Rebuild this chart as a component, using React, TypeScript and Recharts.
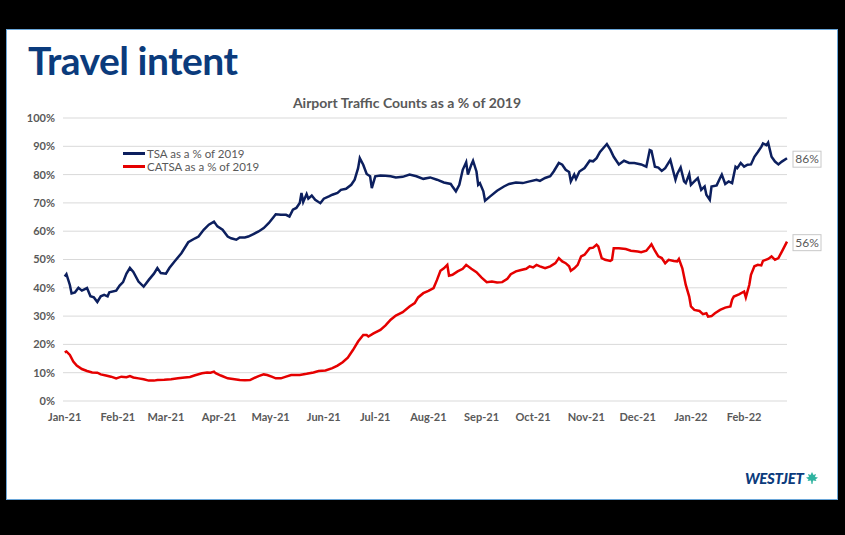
import React from 'react';
import { LineChart, Line, XAxis, YAxis, CartesianGrid, LabelList } from 'recharts';

// days since 1 Jan 2021, values in % of 2019 traffic
const tsaDays = [0, 1, 3, 4, 6, 8, 10, 13, 15, 17, 19, 21, 23, 25, 26, 30, 32, 34, 36, 38, 40, 43, 46, 49, 52, 54, 56, 59, 61, 64, 68, 72, 76, 78, 81, 84, 87, 89, 92, 95, 97, 100, 102, 105, 107, 110, 113, 116, 119, 122, 123, 126, 129, 131, 133, 135, 137, 138, 139, 141, 142, 144, 146, 149, 151, 154, 156, 159, 161, 164, 167, 169, 171, 172, 174, 176, 178, 179, 181, 184, 187, 190, 193, 197, 201, 205, 209, 213, 217, 221, 225, 226, 228, 230, 232, 234, 235, 237, 238, 240, 241, 242, 244, 245, 248, 252, 256, 259, 263, 267, 271, 275, 277, 280, 283, 285, 288, 290, 292, 294, 295, 297, 298, 300, 303, 306, 308, 310, 312, 314, 316, 318, 320, 323, 326, 329, 332, 336, 339, 341, 342, 344, 346, 348, 350, 353, 356, 357, 359, 361, 362, 364, 365, 367, 369, 371, 373, 374, 376, 377, 380, 382, 383, 385, 387, 389, 391, 392, 394, 396, 398, 400, 402, 404, 406, 407, 409, 410, 412, 414, 416, 418, 421];
const tsaPct = [44, 44.8, 41, 38, 38.4, 40, 39, 39.9, 37, 36.6, 35, 37, 37.5, 37, 38.4, 39, 40.8, 42, 45, 47, 45.6, 42.2, 40.4, 42.8, 45, 47, 45.2, 45, 47, 49.3, 52.2, 56.1, 57.5, 58.1, 60.5, 62.3, 63.4, 61.7, 60.5, 58.1, 57.5, 57, 57.8, 57.8, 58.1, 59, 59.9, 61.1, 62.9, 65.2, 66, 65.8, 65.8, 65.2, 67.6, 68.2, 70, 73.5, 70.3, 73.1, 71.5, 72.6, 71.1, 69.9, 71.5, 72.3, 72.9, 73.5, 74.6, 75, 76.4, 78.2, 82.3, 85.8, 83.5, 80.2, 79.4, 75.2, 79.4, 79.7, 79.6, 79.4, 79, 79.2, 80, 79.4, 78.5, 79, 78.2, 77.2, 76.7, 75.8, 74.1, 76.4, 81.7, 84.4, 80, 83.5, 84.9, 81.1, 76.4, 77, 74.1, 70.8, 72.3, 74.3, 75.8, 76.7, 77.2, 77, 77.6, 78.2, 77.8, 78.8, 79.4, 81.1, 84.1, 83.5, 81.7, 80.9, 77.6, 80, 78.5, 81.1, 82.3, 84.9, 84.7, 85.8, 88, 89.4, 90.8, 88.8, 86.3, 83.6, 84.9, 84.1, 84.1, 83.6, 82.8, 88.7, 88.4, 82.8, 82.5, 81.3, 82.3, 85.2, 78.2, 80.2, 82.5, 77.6, 77, 80.2, 76.4, 77.6, 78.8, 74.6, 75.8, 72.9, 71.1, 75.8, 76.2, 78.8, 80, 76.7, 77.6, 77, 82.8, 82.3, 84.1, 82.8, 83.5, 83.6, 86.3, 88, 89.8, 91, 90.4, 91.3, 86.3, 84.6, 83.6, 84.6, 85.8];

const catsaDays = [0, 1, 3, 5, 7, 10, 13, 16, 19, 21, 24, 27, 30, 33, 36, 38, 40, 43, 46, 49, 52, 54, 58, 62, 66, 70, 73, 76, 80, 83, 85, 87, 88, 91, 95, 99, 102, 105, 108, 110, 113, 116, 118, 121, 123, 126, 129, 132, 134, 137, 141, 145, 148, 152, 156, 159, 162, 165, 168, 171, 174, 176, 177, 180, 184, 187, 190, 193, 197, 201, 204, 206, 209, 212, 215, 217, 219, 221, 223, 224, 226, 229, 232, 234, 237, 240, 243, 246, 249, 252, 255, 258, 260, 263, 266, 269, 271, 273, 275, 277, 280, 283, 286, 288, 290, 292, 294, 295, 297, 299, 301, 303, 306, 308, 310, 311, 313, 315, 318, 319, 320, 323, 327, 330, 334, 336, 339, 341, 342, 344, 346, 348, 350, 352, 355, 357, 358, 360, 362, 364, 365, 367, 370, 372, 374, 375, 377, 379, 382, 385, 388, 389, 390, 393, 396, 397, 399, 400, 402, 404, 406, 407, 410, 412, 414, 416, 418, 421];
const catsaPct = [17.2, 17.5, 16.3, 13.9, 12.5, 11.3, 10.6, 10.1, 10, 9.4, 9, 8.6, 8, 8.6, 8.4, 8.8, 8.3, 8, 7.7, 7.2, 7.2, 7.4, 7.5, 7.7, 8, 8.3, 8.5, 9.1, 9.8, 10.1, 10, 10.4, 9.8, 9, 8, 7.7, 7.4, 7.3, 7.4, 8, 8.8, 9.4, 9.2, 8.5, 8, 8, 8.6, 9.2, 9.2, 9.2, 9.6, 10.1, 10.6, 10.8, 11.6, 12.5, 13.7, 15.3, 18, 21, 23.3, 23.3, 22.8, 23.9, 25.1, 26.7, 28.7, 30.2, 31.4, 33.4, 34.6, 36.6, 38.1, 38.9, 39.9, 42.8, 46, 46.9, 48.1, 44.3, 44.6, 45.8, 46.7, 48.1, 46.7, 45.5, 43.6, 42, 42.2, 41.9, 42, 43.2, 44.8, 45.8, 46.3, 46.7, 47.6, 47.2, 48.1, 47.6, 46.9, 47.6, 48.7, 50.5, 49.3, 48.7, 47.6, 46, 46.9, 48.1, 51.1, 51.7, 54, 54.2, 55.2, 54.6, 50.5, 49.9, 49.5, 49.9, 54, 54, 53.7, 53.1, 52.8, 52.6, 53.1, 54.6, 55.4, 53.1, 51.1, 50.5, 48.7, 49.9, 49.5, 49.3, 50.2, 46.9, 41, 36.9, 33.4, 32.2, 31.8, 30.7, 31, 29.8, 30, 31, 32.2, 33, 33.4, 35.8, 36.9, 37.7, 38.7, 36.6, 41, 44.6, 47.6, 48.1, 47.9, 49.5, 50.2, 51.1, 49.9, 50.5, 52.8, 56.3];

const monthStarts = [0, 31, 59, 90, 120, 151, 181, 212, 243, 273, 304, 334, 365, 396];
const monthLabels = ['Jan-21', 'Feb-21', 'Mar-21', 'Apr-21', 'May-21', 'Jun-21', 'Jul-21', 'Aug-21', 'Sep-21', 'Oct-21', 'Nov-21', 'Dec-21', 'Jan-22', 'Feb-22'];
const pctTicks = [0, 10, 20, 30, 40, 50, 60, 70, 80, 90, 100];

const tsaData = tsaDays.map((d, i) => ({ day: d, v: tsaPct[i] }));
const catsaData = catsaDays.map((d, i) => ({ day: d, v: catsaPct[i] }));

const NAVY = '#0c1f5e';
const RED = '#e50000';
const GREY = '#595959';
const FONT = 'Lato, "Open Sans", sans-serif';

const series = [
  { name: 'TSA as a % of 2019', color: NAVY },
  { name: 'CATSA as a % of 2019', color: RED },
];

const endLabel = (lastIndex: number) => (props: any) => {
  const { x, y, value, index } = props;
  if (index !== lastIndex) return null;
  return (
    <g>
      <rect x={x + 6} y={y - 7} width={28} height={16} fill="#fff" stroke="#c8c8c8" />
      <text x={x + 20} y={y + 5} textAnchor="middle" fontSize={12} fill={GREY} fontFamily={FONT}>
        {Math.round(value)}%
      </text>
    </g>
  );
};

const App: React.FC = () => {
  return (
    <div style={{ position: 'absolute', left: 0, top: 0, width: 845, height: 535, background: '#000', overflow: 'hidden' }}>
      <div style={{ position: 'absolute', left: 6, top: 29, width: 830, height: 469, background: '#fff', border: '1px solid #6aa6d8' }} />
      <div style={{ position: 'absolute', left: 28, top: 37, fontFamily: FONT, fontWeight: 700, fontSize: 39, color: '#0b3b7c', letterSpacing: -0.5 }}>
        Travel intent
      </div>
      <div style={{ position: 'absolute', left: 0, width: 814, top: 94, textAlign: 'center', fontFamily: FONT, fontWeight: 700, fontSize: 14, color: GREY }}>
        Airport Traffic Counts as a % of 2019
      </div>
      <div style={{ position: 'absolute', left: 0, top: 0 }}>
        <LineChart width={845} height={535} margin={{ top: 118, right: 58, bottom: 104, left: 13 }}>
          <CartesianGrid vertical={false} stroke="#d9d9d9" />
          <XAxis
            dataKey="day"
            type="number"
            domain={[-1, 421]}
            ticks={monthStarts}
            tickFormatter={(d: number) => monthLabels[monthStarts.indexOf(d)]}
            axisLine={false}
            tickLine={false}
            tickMargin={6}
            height={30}
            interval={0}
            tick={{ fontSize: 11, fill: GREY, fontFamily: FONT, fontWeight: 700 }}
            allowDuplicatedCategory={false}
          />
          <YAxis
            type="number"
            domain={[0, 100]}
            ticks={pctTicks}
            tickFormatter={(v: number) => `${v}%`}
            axisLine={false}
            tickLine={false}
            width={50}
            tick={{ fontSize: 11, fill: GREY, fontFamily: FONT, fontWeight: 700 }}
          />
          <Line
            data={tsaData}
            dataKey="v"
            type="linear"
            stroke={NAVY}
            strokeWidth={2.5}
            dot={false}
            isAnimationActive={false}
          >
            <LabelList dataKey="v" content={endLabel(tsaData.length - 1)} />
          </Line>
          <Line
            data={catsaData}
            dataKey="v"
            type="linear"
            stroke={RED}
            strokeWidth={2.5}
            dot={false}
            isAnimationActive={false}
          >
            <LabelList dataKey="v" content={endLabel(catsaData.length - 1)} />
          </Line>
        </LineChart>
      </div>
      <div style={{ position: 'absolute', left: 123, top: 147, fontFamily: FONT, fontSize: 11.5, color: GREY, lineHeight: '13px' }}>
        {series.map((s) => (
          <div key={s.name} style={{ display: 'flex', alignItems: 'center' }}>
            <span style={{ display: 'inline-block', width: 22, height: 2.5, background: s.color, marginRight: 2 }} />
            {s.name}
          </div>
        ))}
      </div>
      <div style={{ position: 'absolute', left: 745, top: 469, display: 'flex', alignItems: 'center' }}>
        <span style={{ fontFamily: FONT, fontWeight: 900, fontStyle: 'italic', fontSize: 15, color: '#0b3b7c', letterSpacing: -0.3 }}>WESTJET</span>
        <svg width={14} height={14} viewBox="0 0 14 14" style={{ marginLeft: 1 }}>
          <path d="M7 1 L8.5 4 L11 3 L10 6 L13 6.5 L10.5 8.5 L11.5 10 L8 9.5 L7.5 13 L6.5 13 L6 9.5 L2.5 10 L3.5 8.5 L1 6.5 L4 6 L3 3 L5.5 4 Z" fill="#2fb3a0" />
        </svg>
      </div>
    </div>
  );
};

export default App;
